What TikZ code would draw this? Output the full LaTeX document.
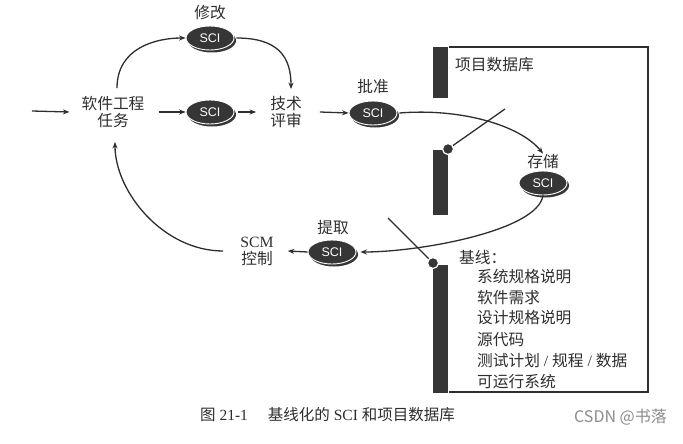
\documentclass[tikz,border=0pt]{standalone}
\usepackage{fontspec}
\setmainfont{Liberation Serif}
\newfontfamily\cjk{Noto Sans CJK SC}
\newfontfamily\sfont{Liberation Sans}
\usetikzlibrary{arrows.meta,shapes.geometric,shadows}
\definecolor{ink}{HTML}{2E2E2E}
\definecolor{disc}{HTML}{363636}
\begin{document}
\begin{tikzpicture}[x=1pt,y=-1pt,
  line/.style={draw=ink,line width=1.3pt},
  arr/.style={line,-{Stealth[length=6.5pt,width=5pt]}},
  sci/.style={ellipse,fill=disc,draw=white,line width=0.9pt,minimum width=48pt,minimum height=24pt,inner sep=0pt,text=white,font=\sfont\fontsize{12.5}{12.5}\selectfont,general shadow={fill=disc,shadow xshift=2pt,shadow yshift=-2.5pt}},
  lbl/.style={font=\cjk\fontsize{15.7}{18}\selectfont,inner sep=1pt,text=ink},
  txt/.style={font=\cjk\fontsize{15.7}{17}\selectfont,align=center,inner sep=2pt,text=ink},
  knob/.style={circle,fill=disc,draw=white,line width=1.2pt,minimum size=11pt,inner sep=0pt},
]
\useasboundingbox[fill=white] (0,0) rectangle (683,444);

% database bars and frame
\fill[disc] (433,47) rectangle (448,98);
\fill[disc] (433,150) rectangle (448,215);
\fill[disc] (433,265) rectangle (448,393);
\draw[line] (449,47) -- (648,47) -- (648,392) -- (449,392);

% SCI discs
\node[sci] (s1) at (210,38) {SCI};
\node[lbl] (l1) at (210,13) {修改};
\node[sci] (s2) at (210,112) {SCI};
\node[sci] (s3) at (373,113) {SCI};
\node[lbl] (l3) at (373,87) {批准};
\node[sci] (s4) at (543,183) {SCI};
\node[lbl] (l4) at (543,162) {存储};
\node[sci] (s5) at (332,252) {SCI};
\node[lbl] (l5) at (333,228) {提取};

% text nodes
\node[txt] (task) at (113,112) {软件工程\\任务};
\node[txt] (rev) at (286,112) {技术\\评审};
\node[txt] (scm) at (257,251) {{\rmfamily SCM}\\控制};

% connectors
\coordinate (start) at (32,111);
\draw[arr] (start) -- ([xshift=-10pt]task.west);
\draw[arr] ([xshift=12pt]task.east) -- (s2.west);
\draw[arr] ([xshift=4pt]s2.east) -- ([xshift=-12pt]rev.west);
\draw[arr] ([xshift=16pt]rev.east) -- (s3.west);
\draw[arr] ([shift={(4,-6)}]task.north) .. controls +(0,-40) and +(-30,0) .. (s1.west);
\draw[arr] ([xshift=2pt]s1.east) .. controls +(42,0) and +(0,-32) .. ([shift={(5,-5)}]rev.north);
\draw[arr] ([xshift=2pt]s3.east) .. controls (460,108) and (520,125) .. (l4.north);
\draw[arr] (s4.south) .. controls +(-5,35) and +(60,0) .. ([xshift=4pt]s5.east);
\draw[arr] (s5.west) -- ([xshift=12pt]scm.east);
\draw[arr] ([xshift=-15pt]scm.west) .. controls +(-60,0) and +(0,50) .. ([shift={(2,12)}]task.south);

% switches
\coordinate (p1) at (505,109);
\coordinate (p2) at (388,218);
\node[knob] (k1) at (448,149) {};
\node[knob] (k2) at (433,263) {};
\draw[line] (p1) -- (k1);
\draw[line] (p2) -- (k2);

% database text
\node[lbl,anchor=west] (db) at (454,65) {项目数据库};
\node[lbl,anchor=west] (bl) at (458,257) {基线：};
\node[lbl,anchor=west] (b1) at (476,277) {系统规格说明};
\node[lbl,anchor=west] (b2) at (476,298) {软件需求};
\node[lbl,anchor=west] (b3) at (476,318) {设计规格说明};
\node[lbl,anchor=west] (b4) at (476,340) {源代码};
\node[lbl,anchor=west] (b5) at (476,361) {测试计划{\rmfamily\ / }规程{\rmfamily\ / }数据};
\node[lbl,anchor=west] (b6) at (476,382) {可运行系统};

% caption
\node[anchor=west,inner sep=0pt,font=\fontsize{15.5}{15.5}\selectfont,text=ink] (cap) at (200,415) {{\cjk 图} 21-1\hspace{20pt}{\cjk 基线化的} SCI {\cjk 和项目数据库}};
\node[anchor=east,inner sep=0pt,font=\cjk\fontsize{16}{16}\selectfont,text=black!45] (wm) at (667,417) {CSDN @书落};
\end{tikzpicture}
\end{document}
